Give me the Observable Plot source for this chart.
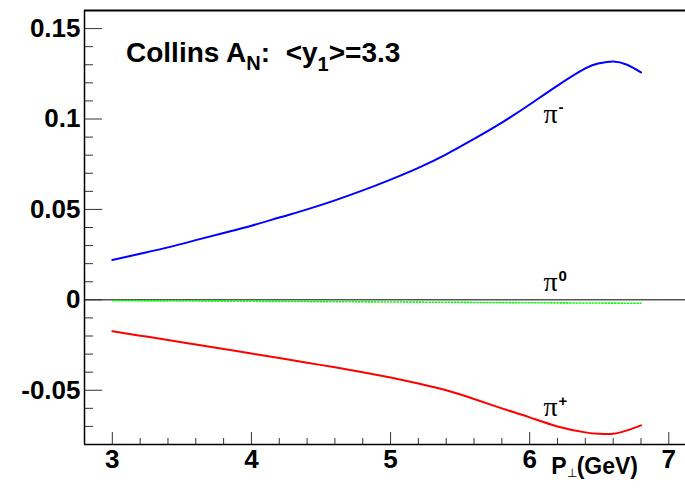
<!DOCTYPE html>
<html>
<head>
<meta charset="utf-8">
<script src="https://cdn.jsdelivr.net/npm/d3@7"></script>
<script src="https://cdn.jsdelivr.net/npm/@observablehq/plot@0.6"></script>
<style>
  html, body { margin: 0; padding: 0; background: #fff; }
  #chart svg { display: block; }
</style>
</head>
<body>
<div id="chart"></div>
<script>
// Collins asymmetry A_N versus transverse momentum P⊥ for charged and neutral pions
const pt      = [3.0, 3.2, 3.4, 3.6, 3.8, 4.0, 4.2, 4.4, 4.6, 4.8, 5.0, 5.2, 5.4, 5.6, 5.8, 6.0, 6.2, 6.4, 6.5, 6.6, 6.7, 6.8];
const piMinus = [0.0220, 0.0255, 0.0290, 0.0330, 0.0370, 0.0410, 0.0455, 0.0500, 0.0550, 0.0605, 0.0665, 0.0730, 0.0805, 0.0890, 0.0980, 0.1080, 0.1185, 0.1280, 0.1308, 0.1318, 0.1300, 0.1258];
const piPlus  = [-0.0174, -0.0198, -0.0222, -0.0247, -0.0272, -0.0297, -0.0322, -0.0348, -0.0373, -0.0400, -0.0430, -0.0463, -0.0500, -0.0548, -0.0600, -0.0650, -0.0700, -0.0733, -0.0741, -0.0741, -0.0722, -0.0694];
const ptZero  = [3.0, 4.0, 5.0, 6.0, 6.8];
const piZero  = [-0.0005, -0.0008, -0.0012, -0.0016, -0.0019];

// axis ticks and labels
const xMajor = [3, 4, 5, 6, 7];
const xMajorLabels = ["3", "4", "5", "6", "7"];
const xMinor = [3.2, 3.4, 3.6, 3.8, 4.2, 4.4, 4.6, 4.8, 5.2, 5.4, 5.6, 5.8, 6.2, 6.4, 6.6, 6.8];
const yMajor = [-0.05, 0, 0.05, 0.1, 0.15];
const yMajorLabels = ["-0.05", "0", "0.05", "0.1", "0.15"];
const yMinor = [-0.07, -0.06, -0.04, -0.03, -0.02, -0.01, 0.01, 0.02, 0.03, 0.04, 0.06, 0.07, 0.08, 0.09, 0.11, 0.12, 0.13, 0.14, 0.16];

// curve labels
const labelX = [6.1, 6.1, 6.1];
const labelY = [0.103, 0.0096, -0.0593];
const labelSup = ["-", "0", "+"];

const minusRows = pt.map((x, i) => ({x, y: piMinus[i]}));
const plusRows  = pt.map((x, i) => ({x, y: piPlus[i]}));
const zeroRows  = ptZero.map((x, i) => ({x, y: piZero[i]}));
const labelRows = labelX.map((x, i) => ({x, y: labelY[i], sup: labelSup[i]}));

const sans = "'Liberation Sans', Arial, Helvetica, sans-serif";
const serif = "'Liberation Serif', 'Times New Roman', serif";

const plot = Plot.plot({
  width: 685,
  height: 488,
  marginLeft: 84,
  marginRight: 0,
  marginTop: 10,
  marginBottom: 44,
  style: {background: "#fff", fontFamily: sans, overflow: "visible"},
  x: {domain: [2.8, 7.12]},
  y: {domain: [-0.08, 0.16]},
  marks: [
    // zero line
    Plot.ruleY([0], {stroke: "#000", strokeWidth: 1}),
    // inward ticks
    Plot.axisY(yMajor, {anchor: "left", tickSize: 18, dx: 18, tickFormat: () => "", stroke: "#333", label: null}),
    Plot.axisY(yMinor, {anchor: "left", tickSize: 9, dx: 9, tickFormat: () => "", stroke: "#333", label: null}),
    Plot.axisX(xMajor, {anchor: "bottom", tickSize: 12, dy: -12, tickFormat: () => "", stroke: "#333", label: null}),
    Plot.axisX(xMinor, {anchor: "bottom", tickSize: 6, dy: -6, tickFormat: () => "", stroke: "#333", label: null}),
    // tick labels
    Plot.text(yMajor, {y: d => d, text: (d, i) => yMajorLabels[i], frameAnchor: "left", textAnchor: "end", dx: -4, fontSize: 26, fontWeight: "bold", fill: "#000"}),
    Plot.text(xMajor, {x: d => d, text: (d, i) => xMajorLabels[i], frameAnchor: "bottom", lineAnchor: "top", dy: 5, fontSize: 26, fontWeight: "bold", fill: "#000"}),
    // curves
    Plot.line(zeroRows, {x: "x", y: "y", stroke: "#00ff00", strokeWidth: 1.6, strokeDasharray: "1.2,2"}),
    Plot.line(minusRows, {x: "x", y: "y", stroke: "#0000ff", strokeWidth: 2, curve: "natural"}),
    Plot.line(plusRows, {x: "x", y: "y", stroke: "#ff0000", strokeWidth: 2, curve: "natural"}),
    // curve labels
    Plot.text(labelRows, {x: "x", y: "y", text: () => "π", textAnchor: "start", fontFamily: serif, fontSize: 28, fill: "#000"}),
    Plot.text(labelRows, {x: "x", y: "y", text: "sup", textAnchor: "start", dx: 15, dy: -6, fontFamily: sans, fontWeight: "bold", fontSize: 15, fill: "#000"}),
    // frame
    Plot.ruleY([0.16], {stroke: "#000", strokeWidth: 2}),
    Plot.ruleY([-0.08], {stroke: "#000", strokeWidth: 1.5}),
    Plot.ruleX([2.8], {stroke: "#000", strokeWidth: 1.5})
  ]
});

const svg = d3.select(plot);

// title
const title = svg.append("text")
  .attr("x", 126).attr("y", 62).attr("text-anchor", "start")
  .attr("font-family", sans).attr("font-weight", "bold").attr("font-size", 28).attr("fill", "#000");
title.append("tspan").text("Collins A");
title.append("tspan").attr("dy", 8).attr("font-size", 20).text("N");
title.append("tspan").attr("dy", -8).text(":\u00a0 <y");
title.append("tspan").attr("dy", 9).attr("font-size", 20).text("1");
title.append("tspan").attr("dy", -9).text(">=3.3");

// x axis title
const xt = svg.append("text")
  .attr("x", 638).attr("y", 474).attr("text-anchor", "end")
  .attr("font-family", sans).attr("font-weight", "bold").attr("font-size", 23).attr("fill", "#000");
xt.append("tspan").text("P");
xt.append("tspan").attr("dy", 3).attr("font-size", 12).attr("font-weight", "normal").text("⊥");
xt.append("tspan").attr("dy", -3).text("(GeV)");

document.getElementById("chart").appendChild(plot);
</script>
</body>
</html>
